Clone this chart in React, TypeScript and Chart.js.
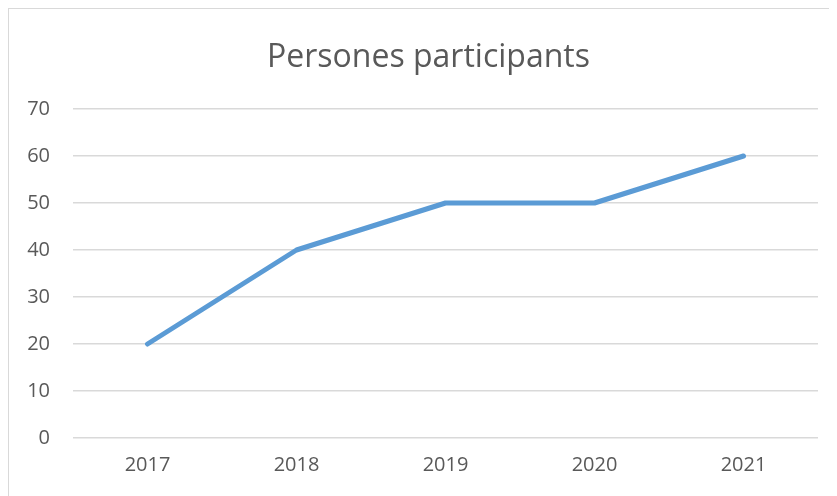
import React, { useEffect, useRef } from "react";
import { Chart, registerables } from "chart.js";

Chart.register(...registerables);

const categories = ["2017", "2018", "2019", "2020", "2021"];
const participants = [20, 40, 50, 50, 60];
const yTicks = [0, 10, 20, 30, 40, 50, 60, 70];
const titleText = "Persones participants";

const titleShift = {
  id: "titleShift",
  afterLayout(chart: any) {
    if (chart.titleBlock) {
      chart.titleBlock.left += 30;
    }
  },
};

export default function App() {
  const ref = useRef<HTMLCanvasElement | null>(null);

  useEffect(() => {
    document.body.style.overflow = "hidden";
    const ctx = ref.current;
    if (!ctx) return;
    const chart = new Chart(ctx, {
      type: "line",
      data: {
        labels: categories,
        datasets: [
          {
            label: titleText,
            data: participants,
            borderColor: "#5B9BD5",
            backgroundColor: "#5B9BD5",
            borderWidth: 5,
            borderCapStyle: "round",
            borderJoinStyle: "round",
            pointRadius: 0,
            pointHoverRadius: 0,
            tension: 0,
            fill: false,
          },
        ],
      },
      plugins: [titleShift],
      options: {
        animation: false,
        responsive: false,
        maintainAspectRatio: false,
        layout: { padding: { left: 0, right: 19, top: 0, bottom: 0 } },
        plugins: {
          legend: { display: false },
          tooltip: { enabled: false },
          title: {
            display: true,
            text: titleText,
            color: "#595959",
            font: { family: "'Open Sans'", size: 32, weight: "normal" },
            padding: { top: 30, bottom: 31.6 },
          },
        },
        scales: {
          x: {
            type: "category",
            offset: true,
            grid: { display: false, drawTicks: false },
            border: { display: false },
            ticks: {
              color: "#595959",
              font: { family: "'Open Sans'", size: 20 },
              padding: 15,
              maxRotation: 0,
            },
            afterFit: (scale: any) => {
              scale.height = 58;
            },
          },
          y: {
            min: 0,
            max: 70,
            afterBuildTicks: (scale: any) => {
              scale.ticks = yTicks.map((v) => ({ value: v }));
            },
            grid: { color: "#d9d9d9", lineWidth: 1.5, drawTicks: false },
            border: { display: false },
            ticks: {
              color: "#595959",
              font: { family: "'Open Sans'", size: 20 },
              padding: 23,
            },
            afterFit: (scale: any) => {
              scale.width = 64;
            },
          },
        },
      },
    });
    return () => chart.destroy();
  }, []);

  return (
    <div
      style={{
        width: 829,
        height: 488,
        borderLeft: "1px solid #d9d9d9",
        borderTop: "1px solid #d9d9d9",
        boxSizing: "border-box",
        background: "#fff",
      }}
    >
      <canvas ref={ref} width={828} height={487} style={{ display: "block" }} />
    </div>
  );
}
